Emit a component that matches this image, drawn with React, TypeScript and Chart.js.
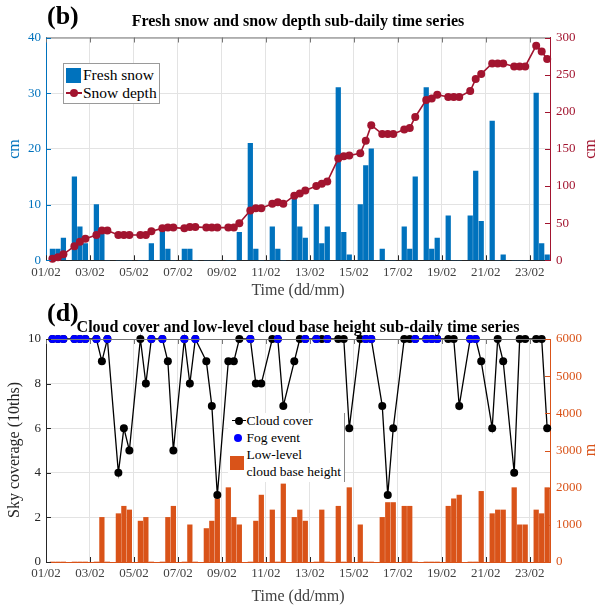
import React, { useEffect, useRef } from 'react';
import { Chart, registerables } from 'chart.js';

Chart.register(...registerables);

const SERIF = '"Liberation Serif", "Times New Roman", serif';

// ---- observation schedule (days since 01/02 00:00, three obs per day) ----
const DAY_COUNT = 23;
const OBS_HOURS = [7, 13, 19];
const X_MAX = 22.92;
const X_TICK_DAYS = [0, 2, 4, 6, 8, 10, 12, 14, 16, 18, 20, 22];
const X_TICK_LABELS = ['01/02', '03/02', '05/02', '07/02', '09/02', '11/02', '13/02', '15/02', '17/02', '19/02', '21/02', '23/02'];

const OBS_TIMES: number[] = [];
for (let d = 0; d < DAY_COUNT; d++) for (const h of OBS_HOURS) OBS_TIMES.push(d + h / 24);

// ---- panel (b) ----
const freshSnow = [
  2, 2, 4, 15, 6, 3, 10, 5, 0, 0, 0, 0, 0, 0, 3, 6, 2, 0, 2, 2, 0, 0, 0, 0,
  0, 0, 5, 21, 2, 0, 6, 2, 0, 11, 6, 4, 10, 3, 6, 31, 5, 1, 10, 17, 20, 2, 0, 0,
  6, 2, 15, 31, 2, 4, 8, 0, 0, 8, 16, 7, 25, 0, 1, 0, 0, 0, 30, 3, 1,
];
const snowDepth = [
  2, 4, 8, 19, 25, 29, 34, 40, 40, 34, 34, 34, 34, 34, 39, 43, 44, 44, 43, 45, 45, 44, 44, 44,
  44, 44, 50, 67, 70, 70, 76, 78, 76, 87, 90, 94, 100, 103, 106, 137, 140, 141, 144, 161, 182, 170, 170, 170,
  176, 178, 193, 216, 218, 223, 220, 220, 220, 228, 244, 251, 265, 265, 265, 261, 261, 261, 289, 281, 271,
];

// ---- panel (d) ----
const cloudCover = [
  10, 10, 10, 10, 10, 10, 10, 9, 10, 4, 6, 5, 10, 8, 10, 10, 9, 5, 10, 8, 10, 9, 7, 3,
  9, 9, 10, 10, 8, 8, 10, 10, 7, 9, 10, 10, 10, 10, 10, 10, 10, 6, 10, 10, 10, 7, 3, 6,
  10, 10, 10, 10, 10, 10, 10, 10, 7, 10, 10, 9, 6, 10, 9, 4, 10, 10, 10, 10, 6,
];
const fogEvent = [
  1, 1, 1, 1, 1, 1, 1, 0, 1, 0, 0, 0, 0, 0, 1, 1, 0, 0, 1, 0, 1, 0, 0, 0,
  0, 0, 0, 1, 0, 0, 0, 1, 0, 0, 0, 1, 1, 0, 1, 0, 0, 0, 0, 1, 1, 0, 0, 0,
  0, 0, 1, 1, 1, 1, 0, 0, 0, 1, 1, 0, 0, 0, 0, 0, 0, 0, 0, 0, 0,
];
const cloudBaseHeight = [
  0, 0, 0, 0, 0, 0, 0, 1200, 0, 1300, 1500, 1400, 1100, 1200, 0, 0, 1200, 1500, 0, 1000, 0, 900, 1100, 1700,
  2000, 1200, 1000, 0, 1100, 1800, 1400, 0, 2100, 1200, 1400, 1100, 0, 1400, 0, 1500, 0, 2000, 1000, 0, 0, 1200, 1600, 1600,
  1500, 1500, 0, 0, 0, 0, 1500, 1700, 1800, 0, 0, 1900, 1300, 1400, 1400, 2000, 1000, 1000, 1400, 1300, 2000,
];

const BLUE = '#0072BD';
const RED = '#A2142F';
const ORANGE = '#D95319';
const DARK = '#262626';
const GRID = '#e3e3e3';
const PT = 4;

const tickFont = { family: SERIF, size: 13 };

function xScale(height: number, borderColor: string) {
  return {
    type: 'linear' as const,
    min: 0,
    max: X_MAX,
    offset: false,
    afterBuildTicks: (s: any) => {
      s.ticks = X_TICK_DAYS.map((v) => ({ value: v }));
    },
    afterFit: (s: any) => {
      s.height = height;
    },
    ticks: {
      autoSkip: false,
      maxRotation: 0,
      padding: 4,
      color: '#404040',
      font: tickFont,
      callback: (v: any) => {
        const i = X_TICK_DAYS.indexOf(Number(v));
        return i >= 0 ? X_TICK_LABELS[i] : '';
      },
    },
    grid: { color: GRID, drawTicks: false, offset: false },
    border: { color: borderColor, width: 1 },
  };
}

function yScale(pos: 'left' | 'right', max: number, step: number, color: string, width: number, grid: boolean) {
  return {
    type: 'linear' as const,
    position: pos,
    min: 0,
    max,
    afterFit: (s: any) => {
      s.width = width;
    },
    ticks: {
      stepSize: step,
      color,
      font: tickFont,
      padding: pos === 'left' ? 5 : 6,
      callback: (v: any) => String(v),
    },
    grid: { display: grid, color: GRID, drawTicks: false },
    border: { color, width: 1 },
  };
}

function framePlugin(topColor: string, bottomColor: string, leftColor: string, rightColor: string) {
  return {
    id: 'frame',
    afterDraw(chart: any) {
      const { ctx, chartArea: a, scales } = chart;
      const tl = 5;
      ctx.save();
      ctx.lineWidth = 1;
      ctx.strokeStyle = topColor;
      ctx.beginPath();
      ctx.moveTo(a.left, a.top + 0.5);
      ctx.lineTo(a.right, a.top + 0.5);
      for (const v of X_TICK_DAYS) {
        const px = Math.round(scales.x.getPixelForValue(v)) + 0.5;
        ctx.moveTo(px, a.top);
        ctx.lineTo(px, a.top + tl);
      }
      ctx.stroke();
      ctx.strokeStyle = bottomColor;
      ctx.beginPath();
      for (const v of X_TICK_DAYS) {
        const px = Math.round(scales.x.getPixelForValue(v)) + 0.5;
        ctx.moveTo(px, a.bottom);
        ctx.lineTo(px, a.bottom - tl);
      }
      ctx.stroke();
      ctx.strokeStyle = leftColor;
      ctx.beginPath();
      scales.y.ticks.forEach((t: any) => {
        const py = Math.round(scales.y.getPixelForValue(t.value)) + 0.5;
        ctx.moveTo(a.left, py);
        ctx.lineTo(a.left + tl, py);
      });
      ctx.stroke();
      ctx.strokeStyle = rightColor;
      ctx.beginPath();
      scales.y1.ticks.forEach((t: any) => {
        const py = Math.round(scales.y1.getPixelForValue(t.value)) + 0.5;
        ctx.moveTo(a.right, py);
        ctx.lineTo(a.right - tl, py);
      });
      ctx.stroke();
      ctx.restore();
    },
  };
}

function topConfig(): any {
  return {
    type: 'bar',
    data: {
      datasets: [
        {
          type: 'line',
          label: 'Snow depth',
          data: OBS_TIMES.map((x, i) => ({ x, y: snowDepth[i] })),
          yAxisID: 'y1',
          borderColor: RED,
          backgroundColor: RED,
          borderWidth: 1.6,
          pointRadius: PT,
          pointBorderWidth: 0,
          pointBackgroundColor: RED,
          clip: false,
          order: 1,
        },
        {
          type: 'bar',
          label: 'Fresh snow',
          data: OBS_TIMES.map((x, i) => ({ x, y: freshSnow[i] })),
          yAxisID: 'y',
          backgroundColor: BLUE,
          barThickness: 4.6,
          order: 2,
        },
      ],
    },
    options: {
      animation: false,
      responsive: false,
      events: [],
      layout: { padding: { top: 37.5, left: 0, right: 0, bottom: 0 } },
      plugins: { legend: { display: false }, tooltip: { enabled: false } },
      scales: {
        x: xScale(39.7, DARK),
        y: yScale('left', 40, 10, BLUE, 46, true),
        y1: yScale('right', 300, 50, RED, 53, false),
      },
    },
    plugins: [framePlugin('#777', DARK, BLUE, RED)],
  };
}

function bottomConfig(): any {
  return {
    type: 'bar',
    data: {
      datasets: [
        {
          type: 'line',
          label: 'Fog event',
          data: OBS_TIMES.map((x, i) => (fogEvent[i] ? { x, y: 10 } : null)).filter(Boolean),
          yAxisID: 'y',
          showLine: false,
          pointRadius: PT,
          pointBorderWidth: 0,
          pointBackgroundColor: '#0000FF',
          borderColor: '#0000FF',
          clip: false,
          order: 0,
        },
        {
          type: 'line',
          label: 'Cloud cover',
          data: OBS_TIMES.map((x, i) => ({ x, y: cloudCover[i] })),
          yAxisID: 'y',
          borderColor: '#000000',
          backgroundColor: '#000000',
          borderWidth: 1.3,
          pointRadius: PT,
          pointBorderWidth: 0,
          pointBackgroundColor: '#000000',
          clip: false,
          order: 1,
        },
        {
          type: 'bar',
          label: 'Low-level cloud base height',
          data: OBS_TIMES.map((x, i) => ({ x, y: cloudBaseHeight[i] })),
          yAxisID: 'y1',
          backgroundColor: ORANGE,
          barThickness: 4.6,
          order: 2,
        },
      ],
    },
    options: {
      animation: false,
      responsive: false,
      events: [],
      layout: { padding: { top: 39, left: 0, right: 0, bottom: 0 } },
      plugins: { legend: { display: false }, tooltip: { enabled: false } },
      scales: {
        x: xScale(46, ORANGE),
        y: yScale('left', 10, 2, DARK, 46, true),
        y1: yScale('right', 6000, 1000, ORANGE, 53, false),
      },
    },
    plugins: [framePlugin('#777', DARK, DARK, ORANGE)],
  };
}

const abs = (x: number, y: number, extra: React.CSSProperties = {}): React.CSSProperties => ({
  position: 'absolute',
  left: x,
  top: y,
  whiteSpace: 'nowrap',
  lineHeight: 1,
  fontFamily: SERIF,
  ...extra,
});

function Centered({ x, y, rotate, style, children }: any) {
  return (
    <div
      style={abs(x, y, {
        transform: `translate(-50%, -50%)${rotate ? ' rotate(-90deg)' : ''}`,
        ...style,
      })}
    >
      {children}
    </div>
  );
}

function Left({ x, y, style, children }: any) {
  return <div style={abs(x, y, { transform: 'translateY(-50%)', ...style })}>{children}</div>;
}

export default function App() {
  const topRef = useRef<HTMLCanvasElement>(null);
  const botRef = useRef<HTMLCanvasElement>(null);

  useEffect(() => {
    const c1 = new Chart(topRef.current as HTMLCanvasElement, topConfig());
    const c2 = new Chart(botRef.current as HTMLCanvasElement, bottomConfig());
    return () => {
      c1.destroy();
      c2.destroy();
    };
  }, []);

  const dot = (cx: number, cy: number, color: string): React.CSSProperties => ({
    position: 'absolute',
    left: cx - PT,
    top: cy - PT,
    width: PT * 2,
    height: PT * 2,
    borderRadius: '50%',
    background: color,
  });

  return (
    <div style={{ position: 'absolute', left: 0, top: 0, width: 603, height: 608, background: '#fff', overflow: 'hidden' }}>
      <canvas ref={topRef} width={603} height={300} style={{ position: 'absolute', left: 0, top: 0, width: 603, height: 300 }} />
      <canvas ref={botRef} width={603} height={308} style={{ position: 'absolute', left: 0, top: 300, width: 603, height: 308 }} />

      {/* panel (b) texts */}
      <Left x={47} y={16} style={{ fontSize: 26, fontWeight: 'bold', color: '#000' }}>(b)</Left>
      <Centered x={298} y={21} style={{ fontSize: 16, fontWeight: 'bold', color: '#000' }}>
        Fresh snow and snow depth sub-daily time series
      </Centered>
      <Centered x={14} y={149} rotate style={{ fontSize: 16, color: BLUE }}>cm</Centered>
      <Centered x={590} y={149} rotate style={{ fontSize: 16, color: RED }}>cm</Centered>
      <Centered x={298} y={290} style={{ fontSize: 16, color: '#404040' }}>Time (dd/mm)</Centered>

      {/* panel (b) legend */}
      <div style={{ position: 'absolute', left: 62.5, top: 63, width: 97, height: 41, border: '1px solid #9a9a9a', background: '#fff', boxSizing: 'border-box' }} />
      <div style={{ position: 'absolute', left: 66, top: 67.5, width: 15, height: 15, background: BLUE }} />
      <Left x={83} y={75} style={{ fontSize: 15.5, color: '#000' }}>Fresh snow</Left>
      <div style={{ position: 'absolute', left: 66, top: 92.2, width: 16, height: 1.6, background: RED }} />
      <div style={dot(73.8, 93, RED)} />
      <Left x={83} y={93} style={{ fontSize: 15.5, color: '#000' }}>Snow depth</Left>

      {/* panel (d) texts */}
      <Left x={47} y={313} style={{ fontSize: 26, fontWeight: 'bold', color: '#000' }}>(d)</Left>
      <Centered x={298} y={327} style={{ fontSize: 16, fontWeight: 'bold', color: '#000' }}>
        Cloud cover and low-level cloud base height sub-daily time series
      </Centered>
      <Centered x={14} y={450} rotate style={{ fontSize: 16, color: DARK }}>Sky coverage (10ths)</Centered>
      <Centered x={590} y={450} rotate style={{ fontSize: 16, color: ORANGE }}>m</Centered>
      <Centered x={298} y={596} style={{ fontSize: 16, color: '#404040' }}>Time (dd/mm)</Centered>

      {/* panel (d) legend */}
      <div style={{ position: 'absolute', left: 228, top: 413, width: 116, height: 69, background: '#fff', borderRight: '1px solid #8a8a8a' }} />
      <div style={{ position: 'absolute', left: 231.5, top: 420, width: 14, height: 1.3, background: '#000' }} />
      <div style={dot(238.5, 420.7, '#000')} />
      <Left x={246.5} y={420.7} style={{ fontSize: 13.5, color: '#000' }}>Cloud cover</Left>
      <div style={dot(237.5, 437.5, '#0000FF')} />
      <Left x={246.5} y={437.5} style={{ fontSize: 13.5, color: '#000' }}>Fog event</Left>
      <div style={{ position: 'absolute', left: 230, top: 456, width: 14, height: 14, background: ORANGE }} />
      <Left x={246.5} y={455} style={{ fontSize: 13.5, color: '#000' }}>Low-level</Left>
      <Left x={246.5} y={471.5} style={{ fontSize: 13.5, color: '#000' }}>cloud base height</Left>
    </div>
  );
}
